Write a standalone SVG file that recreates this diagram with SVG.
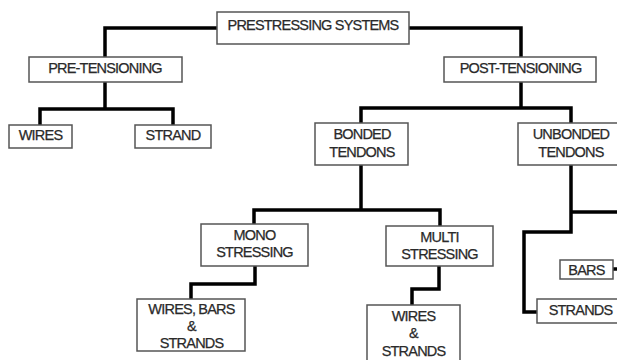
<svg xmlns="http://www.w3.org/2000/svg" width="617" height="360" viewBox="0 0 617 360">
<style>
.box{fill:#fff;stroke:#555;stroke-width:1.5}
.t{font-family:"Liberation Sans",Arial,sans-serif;font-size:14.5px;fill:#2a2a2a;stroke:#2a2a2a;stroke-width:0.25;text-anchor:middle;letter-spacing:-0.8px}
.c{fill:none;stroke:#000;stroke-width:3.5;stroke-linejoin:miter;stroke-linecap:butt}
</style>
<rect width="617" height="360" fill="#fff"/>
<g id="connectors">
<path class="c" d="M217,28 H105 V57"/>
<path class="c" d="M409,28 H521 V57"/>
<path class="c" d="M105,82 V109"/>
<path class="c" d="M40,125 V109 H173 V125"/>
<path class="c" d="M521,82 V108"/>
<path class="c" d="M361,123 V108 H571 V123"/>
<path class="c" d="M361,165 V210"/>
<path class="c" d="M254,224 V210 H440 V226"/>
<path class="c" d="M255,266 V284 H191 V299"/>
<path class="c" d="M439,266 V289 H412 V305"/>
<path class="c" d="M571,165 V232 H524 V312 H537"/>
<path class="c" d="M571,212 H617"/>
<path class="c" d="M613,269 H617"/>
</g>
<g id="prestressing"><rect class="box" x="217" y="12" width="192" height="32"/><text class="t" x="313" y="30">PRESTRESSING SYSTEMS</text></g>
<g id="pretensioning"><rect class="box" x="29" y="57" width="153" height="25"/><text class="t" x="105" y="73">PRE-TENSIONING</text></g>
<g id="wires"><rect class="box" x="9" y="125" width="63" height="23"/><text class="t" x="40.5" y="140">WIRES</text></g>
<g id="strand"><rect class="box" x="135" y="125" width="76" height="23"/><text class="t" x="173" y="140">STRAND</text></g>
<g id="posttensioning"><rect class="box" x="444" y="57" width="152" height="25"/><text class="t" x="520.5" y="73">POST-TENSIONING</text></g>
<g id="bonded"><rect class="box" x="315" y="123" width="93" height="42"/><text class="t" x="362" y="139">BONDED</text><text class="t" x="362" y="157">TENDONS</text></g>
<g id="unbonded"><rect class="box" x="518" y="123" width="104" height="42"/><text class="t" x="571" y="139">UNBONDED</text><text class="t" x="571" y="157">TENDONS</text></g>
<g id="mono"><rect class="box" x="201" y="224" width="107" height="42"/><text class="t" x="254.5" y="240">MONO</text><text class="t" x="254.5" y="257">STRESSING</text></g>
<g id="multi"><rect class="box" x="386" y="226" width="107" height="40"/><text class="t" x="439.5" y="242">MULTI</text><text class="t" x="439.5" y="259">STRESSING</text></g>
<g id="wiresbarsstrands"><rect class="box" x="137" y="299" width="108" height="52"/><text class="t" x="191.5" y="314">WIRES, BARS</text><text class="t" x="191.5" y="331">&amp;</text><text class="t" x="191.5" y="348">STRANDS</text></g>
<g id="wiresstrands"><rect class="box" x="367" y="305" width="93" height="60"/><text class="t" x="413.5" y="321">WIRES</text><text class="t" x="413.5" y="338">&amp;</text><text class="t" x="413.5" y="356">STRANDS</text></g>
<g id="bars"><rect class="box" x="560" y="260" width="53" height="19"/><text class="t" x="586.5" y="275">BARS</text></g>
<g id="strands"><rect class="box" x="537" y="299" width="85" height="24"/><text class="t" x="580.5" y="315">STRANDS</text></g>
</svg>
